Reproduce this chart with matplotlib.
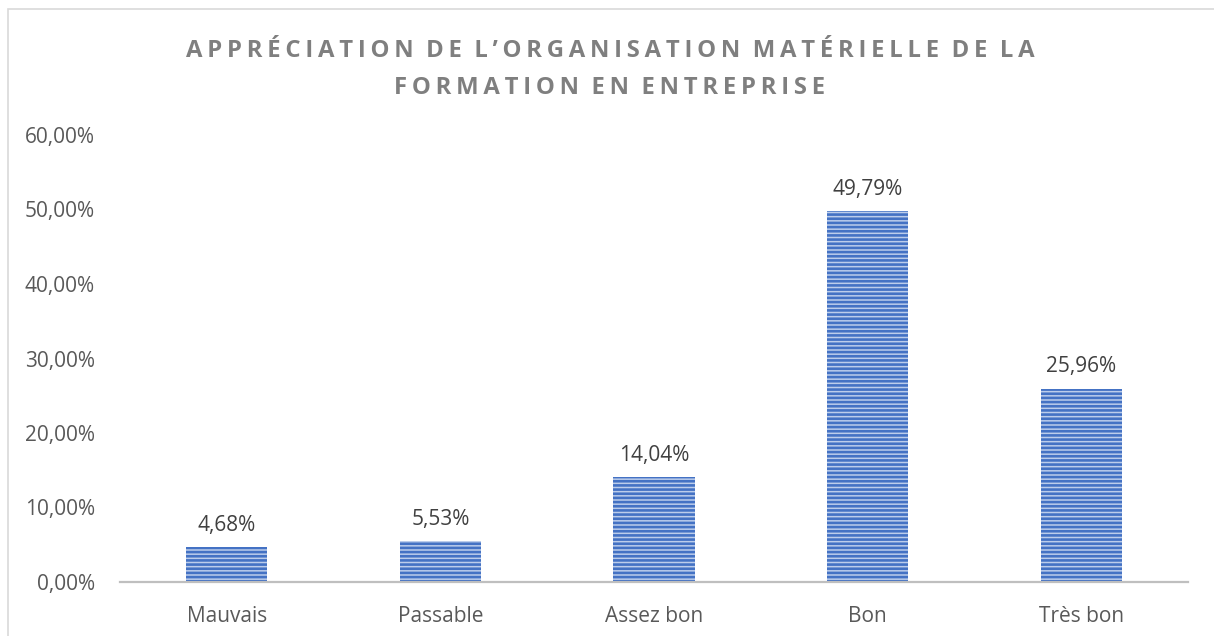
import matplotlib.pyplot as plt
from matplotlib.patches import Rectangle

categories = ["Mauvais", "Passable", "Assez bon", "Bon", "Très bon"]
values = [4.68, 5.53, 14.04, 49.79, 25.96]
title_lines = ["APPRÉCIATION DE L’ORGANISATION MATÉRIELLE DE LA",
               "FORMATION EN ENTREPRISE"]


def spaced(s):
    # letter spacing with thin spaces
    return "\u2009".join(s).replace("\u2009 \u2009", "  ")


plt.rcParams['font.family'] = ['Open Sans', 'DejaVu Sans']
plt.rcParams['hatch.linewidth'] = 1.9

W, H = 1214, 636
fig = plt.figure(figsize=(W / 100, H / 100), dpi=100)
ax = fig.add_axes([120 / W, 1 - 582 / H, (1188 - 120) / W, (582 - 135) / H])

x = range(len(categories))
ax.bar(x, values, width=0.38, color='#BCCDEB', edgecolor='#4472C4',
       hatch='----', linewidth=0)

for xi, v in zip(x, values):
    ax.annotate(f"{v:.2f}%".replace(".", ","), (xi, v), xytext=(0, 8),
                textcoords='offset points', ha='center', va='bottom',
                fontsize=15, color='#404040')

ax.set_xlim(-0.5, len(categories) - 0.5)
ax.set_ylim(0, 60)
ax.set_yticks(range(0, 61, 10))
ax.set_yticklabels([f"{t},00%" for t in range(0, 61, 10)])
ax.set_xticks(list(x))
ax.set_xticklabels(categories)
ax.tick_params(axis='both', length=0, labelsize=15, colors='#595959')
ax.tick_params(axis='y', pad=18)
ax.tick_params(axis='x', pad=17)

for s in ['top', 'right', 'left']:
    ax.spines[s].set_visible(False)
ax.spines['bottom'].set_color('#BFBFBF')
ax.spines['bottom'].set_linewidth(1.6)

fig.text(610 / W, 1 - 51 / H, spaced(title_lines[0]),
         ha='center', va='center', fontsize=17.2, fontweight='bold', color='#7F7F7F')
fig.text(610 / W, 1 - 88 / H, spaced(title_lines[1]),
         ha='center', va='center', fontsize=17.2, fontweight='bold', color='#7F7F7F')

# chart border (cut off at right and bottom)
fig.patches.append(Rectangle((8 / W, -0.1), 1.2, 1.1 - 9 / H, transform=fig.transFigure,
                             fill=False, edgecolor='#D9D9D9', linewidth=1.2))

fig.savefig("out.png", dpi=100)
